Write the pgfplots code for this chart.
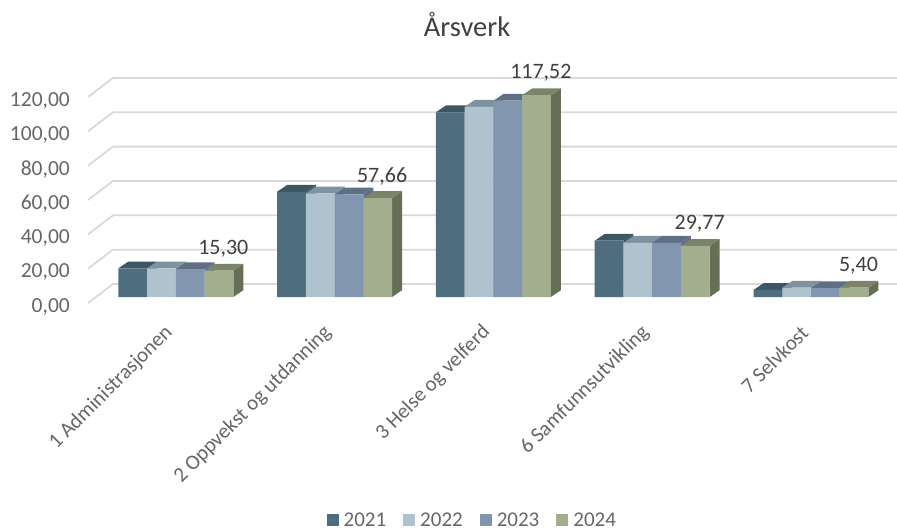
\documentclass[border=0pt]{standalone}
\usepackage{fontspec}
\setmainfont{Carlito}
\usepackage{pgfplots}
\usepackage{pgfplotstable}
\pgfplotsset{compat=1.18}
\definecolor{cA}{HTML}{4E6E80}\definecolor{cAt}{HTML}{3D5663}\definecolor{cAs}{HTML}{3D5663}
\definecolor{cB}{HTML}{AFC3CF}\definecolor{cBt}{HTML}{7F939E}\definecolor{cBs}{HTML}{7F939E}
\definecolor{cC}{HTML}{8296AF}\definecolor{cCt}{HTML}{5F7086}\definecolor{cCs}{HTML}{5F7086}
\definecolor{cD}{HTML}{A3AE8E}\definecolor{cDt}{HTML}{7B8468}\definecolor{cDs}{HTML}{666E55}
\definecolor{gridc}{HTML}{D9D9D9}
\pgfplotstableread{
k  y2021 y2022 y2023 y2024
0  16.7  16.7  16.2  15.30
1  61.3  60.4  59.8  57.66
2  107.6 110.8 114.3 117.52
3  32.8  31.6  31.6  29.77
4  4.1   5.4   5.2   5.40
}\datatable
% left edge = k + shift - w/2; extrusion dx=0.063 (categories), dy=3.95 (value units)
\newcommand\depth[5]{%
  \pgfmathsetmacro\xl{#1+#2-0.0905}%
  \pgfmathsetmacro\xr{#1+#2+0.0905}%
  \pgfmathsetmacro\xlb{\xl+0.063}%
  \pgfmathsetmacro\xrb{\xr+0.063}%
  \pgfmathsetmacro\yb{#3+3.95}%
  \edef\tmp{\noexpand\addplot[fill=#5,draw=none,forget plot] coordinates {(\xr,0)(\xr,#3)(\xrb,\yb)(\xrb,3.95)} -- cycle;
  \noexpand\addplot[fill=#4,draw=none,forget plot] coordinates {(\xl,#3)(\xr,#3)(\xrb,\yb)(\xlb,\yb)} -- cycle;}%
  \tmp}
\newcommand\gl[2]{\addplot[gridc,line width=1.8pt,forget plot] coordinates {(-0.5529,#1)(-0.3955,#2)(4.5416,#2)};}
\begin{document}
\begin{tikzpicture}
\useasboundingbox (0,0) rectangle (897pt,531pt);
\begin{axis}[
  at={(88pt,228pt)},anchor=south west,
  scale only axis,width=809pt,height=243pt,
  xmin=-0.5529,xmax=4.5416,ymin=-3.49,ymax=138.03,
  clip=false,
  axis line style={draw=none},
  major tick length=0pt,
  xtick={0,1,2,3,4},
  xticklabels={1 Administrasjonen,2 Oppvekst og utdanning,3 Helse og velferd,6 Samfunnsutvikling,7 Selvkost},
  ytick={0,20,40,60,80,100,120},
  xticklabel style={rotate=45,anchor=east,font=\fontsize{21}{24}\selectfont,text=black!60,yshift=-14pt,xshift=-23pt,inner sep=0pt},
  yticklabel style={font=\fontsize{21.5}{24}\selectfont,text=black!60,yshift=-9.5pt,xshift=-18pt,inner sep=0pt,anchor=east,
    /pgf/number format/.cd,fixed,fixed zerofill,precision=2,use comma,1000 sep={},assume math mode=true},
  title={Årsverk},
  title style={at={(0.4685,1.12)},anchor=center,font=\fontsize{28.5}{32}\selectfont,text=black!75,inner sep=0pt},
  bar width=0.181,
  legend columns=4,
  legend style={at={(0.475,-0.895)},anchor=center,draw=none,fill=none,font=\fontsize{21}{24}\selectfont,text=black!60,
    /tikz/every odd column/.append style={column sep=3pt},/tikz/every even column/.append style={column sep=15pt},inner sep=0pt,row sep=0pt},
  legend image code/.code={\fill[#1] (0pt,-6pt) rectangle (12pt,6pt);},
]
\gl{-3.49}{7.57}\gl{16.51}{27.57}\gl{36.51}{47.57}\gl{56.51}{67.57}\gl{76.51}{87.57}\gl{96.51}{107.57}\gl{116.51}{127.57}
% 2021
\depth{0}{-0.2715}{16.7}{cAt}{cAs}\depth{1}{-0.2715}{61.3}{cAt}{cAs}\depth{2}{-0.2715}{107.6}{cAt}{cAs}\depth{3}{-0.2715}{32.8}{cAt}{cAs}\depth{4}{-0.2715}{4.1}{cAt}{cAs}
\addplot[ybar,bar shift=-0.2715,fill=cA,draw=none] table[x=k,y=y2021]{\datatable};
\addlegendentry{2021}
% 2022
\depth{0}{-0.0905}{16.7}{cBt}{cBs}\depth{1}{-0.0905}{60.4}{cBt}{cBs}\depth{2}{-0.0905}{110.8}{cBt}{cBs}\depth{3}{-0.0905}{31.6}{cBt}{cBs}\depth{4}{-0.0905}{5.4}{cBt}{cBs}
\addplot[ybar,bar shift=-0.0905,fill=cB,draw=none] table[x=k,y=y2022]{\datatable};
\addlegendentry{2022}
% 2023
\depth{0}{0.0905}{16.2}{cCt}{cCs}\depth{1}{0.0905}{59.8}{cCt}{cCs}\depth{2}{0.0905}{114.3}{cCt}{cCs}\depth{3}{0.0905}{31.6}{cCt}{cCs}\depth{4}{0.0905}{5.2}{cCt}{cCs}
\addplot[ybar,bar shift=0.0905,fill=cC,draw=none] table[x=k,y=y2023]{\datatable};
\addlegendentry{2023}
% 2024
\depth{0}{0.2715}{15.30}{cDt}{cDs}\depth{1}{0.2715}{57.66}{cDt}{cDs}\depth{2}{0.2715}{117.52}{cDt}{cDs}\depth{3}{0.2715}{29.77}{cDt}{cDs}\depth{4}{0.2715}{5.40}{cDt}{cDs}
\addplot[ybar,bar shift=0.2715,fill=cD,draw=none,
  nodes near coords,
  every node near coord/.append style={anchor=center,yshift=22pt,xshift=47.5pt,inner sep=0pt,text=black!75,
    font=\fontsize{22}{26}\selectfont,
    /pgf/number format/.cd,fixed,fixed zerofill,precision=2,use comma,1000 sep={},assume math mode=true}
  ] table[x=k,y=y2024]{\datatable};
\addlegendentry{2024}
\end{axis}
\end{tikzpicture}
\end{document}
